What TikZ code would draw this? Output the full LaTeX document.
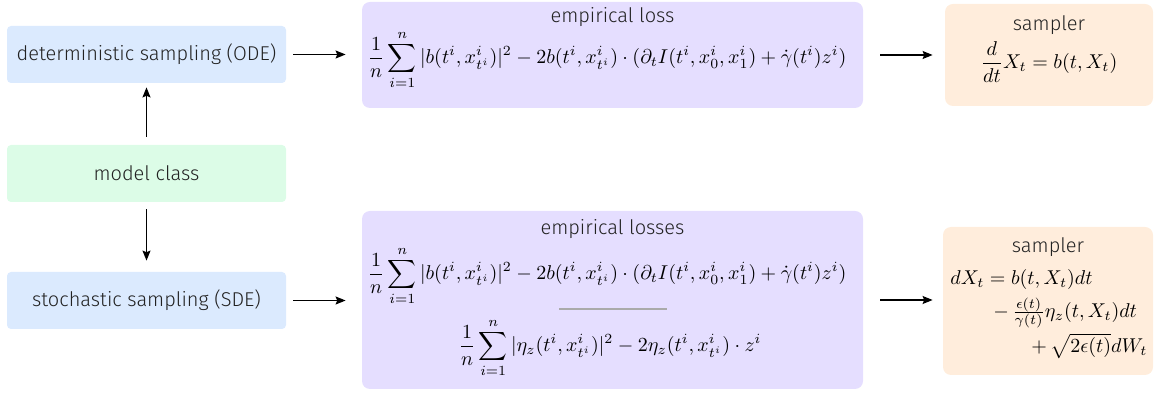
\documentclass[tikz,border=0pt]{standalone}
\usepackage{fontspec}
\setmainfont{Fira Sans}[UprightFont={* Light}]
\usetikzlibrary{arrows.meta}
\definecolor{bluebox}{RGB}{219,234,254}
\definecolor{greenbox}{RGB}{220,252,231}
\definecolor{purplebox}{RGB}{229,222,255}
\definecolor{orangebox}{RGB}{255,237,220}
\definecolor{ink}{RGB}{34,34,34}
\definecolor{sepgray}{RGB}{170,170,170}
\tikzset{
  smallbox/.style={rectangle, rounded corners=2pt, inner sep=0pt, draw=none, text=ink,
    minimum width=139.5pt, minimum height=28.5pt},
  bigbox/.style={rectangle, rounded corners=4pt, inner sep=0pt, draw=none},
  lbl/.style={inner sep=0pt, text=ink},
  mth/.style={inner sep=0pt, text=black},
  arr/.style={-{Stealth[length=5pt,width=4pt,inset=0.8pt]}, line width=0.6pt, black},
}
\begin{document}
\begin{tikzpicture}[x=0.5pt,y=-0.5pt]
\useasboundingbox (0,0) rectangle (1156,394);
% left column
\node[smallbox, fill=bluebox] (ode) at (146.5,54.5) {deterministic sampling (ODE)};
\node[smallbox, fill=greenbox] (model) at (146.5,173.5) {model class};
\node[smallbox, fill=bluebox] (sde) at (146.5,300.5) {stochastic sampling (SDE)};
% top loss
\node[bigbox, fill=purplebox, minimum width=250.5pt, minimum height=53pt] (loss1) at (612.5,55) {};
\node[lbl] (loss1title) at (612.5,17) {empirical loss};
\node[mth] (loss1eq) at (607,60) {$\displaystyle \frac{1}{n}\sum_{i=1}^{n}|b(t^i,x^i_{t^i})|^2-2b(t^i,x^i_{t^i})\cdot(\partial_t I(t^i,x^i_0,x^i_1)+\dot\gamma(t^i)z^i)$};
% top sampler
\node[bigbox, fill=orangebox, minimum width=104pt, minimum height=51pt] (samp1) at (1049,55) {};
\node[lbl] (samp1title) at (1049,25) {sampler};
\node[mth] (samp1eq) at (1049,62) {$\displaystyle \frac{d}{dt}X_t=b(t,X_t)$};
% bottom loss
\node[bigbox, fill=purplebox, minimum width=250.5pt, minimum height=89pt] (loss2) at (612.5,300) {};
\node[lbl] (loss2title) at (612.5,229) {empirical losses};
\node[mth] (loss2eqa) at (607,276) {$\displaystyle \frac{1}{n}\sum_{i=1}^{n}|b(t^i,x^i_{t^i})|^2-2b(t^i,x^i_{t^i})\cdot(\partial_t I(t^i,x^i_0,x^i_1)+\dot\gamma(t^i)z^i)$};
\coordinate (sepL) at (559,309);
\coordinate (sepR) at (667,309);
\draw[sepgray, line width=0.6pt] (sepL) -- (sepR);
\node[mth] (loss2eqb) at (610,348) {$\displaystyle \frac{1}{n}\sum_{i=1}^{n}|\eta_z(t^i,x^i_{t^i})|^2-2\eta_z(t^i,x^i_{t^i})\cdot z^i$};
% bottom sampler
\node[bigbox, fill=orangebox, minimum width=105pt, minimum height=74pt] (samp2) at (1048,301) {};
\node[lbl] (samp2title) at (1048,247) {sampler};
\node[mth, anchor=west] (samp2a) at (950,280) {$dX_t=b(t,X_t)dt$};
\node[mth, anchor=west] (samp2b) at (993,313) {$-\,\frac{\epsilon(t)}{\gamma(t)}\eta_z(t,X_t)dt$};
\node[mth, anchor=west] (samp2c) at (1031,346) {$+\,\sqrt{2\epsilon(t)}dW_t$};
% arrows
\draw[arr, shorten <=3.5pt, shorten >=8pt] (ode.east) -- (ode.east -| loss1.west);
\draw[arr, shorten <=3.5pt, shorten >=8pt] (sde.east) -- (sde.east -| loss2.west);
\draw[arr, shorten <=4pt, shorten >=2pt] (model.north) -- (ode.south);
\draw[arr, shorten <=3.5pt, shorten >=5.5pt] (model.south) -- (sde.north);
\draw[arr, shorten <=8.5pt, shorten >=6pt] (loss1.east) -- (loss1.east -| samp1.west);
\draw[arr, shorten <=8.5pt, shorten >=5pt] (loss2.east) -- (loss2.east -| samp2.west);
\end{tikzpicture}
\end{document}
